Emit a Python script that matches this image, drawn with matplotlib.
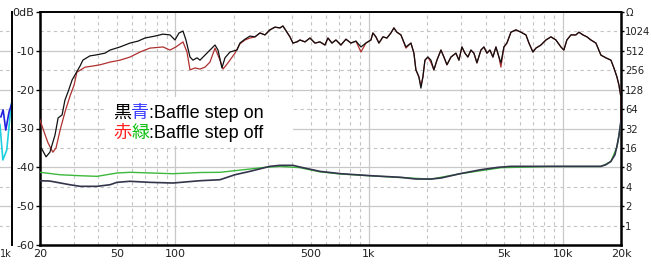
import numpy as np
import matplotlib
matplotlib.use('Agg')
import matplotlib.pyplot as plt
from matplotlib.patches import Rectangle

plt.rcParams['axes.unicode_minus'] = False

# 周波数特性 (Baffle step on) [Hz], [dB]
fr_on_f = [20, 20.2, 21.5, 22.5, 23.9, 24.8, 26.0, 26.9, 27.9, 29.3, 30.3, 32.2, 33.3, 36.2, 38.5,
           43.3, 46.0, 51.8, 58.3, 64.1, 69.7, 78.5, 86.3, 93.8, 99.5, 104.4, 109.5, 113.4, 119.0,
           123.3, 129.3, 134.0, 142.2, 150.9, 160.2, 166.0, 174.0, 180.4, 191.4, 208.0, 215.5,
           228.8, 242.8, 257.6, 273.4, 290.2, 307.9, 326.8, 346.7, 359.3, 376.9, 390.5, 404.7,
           424.4, 439.9, 466.8, 495.4, 525.7, 557.9, 592.0, 613.6, 643.5, 674.8, 716.0, 759.8,
           806.5, 855.8, 908.2, 963.8, 1023, 1047, 1085, 1125, 1180, 1237, 1297, 1344, 1393, 1461,
           1550, 1646, 1705, 1746, 1809, 1853, 1898, 1944, 2014, 2087, 2162, 2242, 2351, 2436,
           2525, 2648, 2810, 2912, 3017, 3127, 3240, 3358, 3480, 3607, 3782, 3920, 4062, 4209,
           4362, 4521, 4685, 4797, 4971, 5152, 5404, 5734, 6087, 6460, 6694, 7019, 7273, 7720,
           8193, 8694, 9224, 9788, 10140, 10510, 11030, 11700, 12130, 12720, 13340, 13980, 14840,
           15750, 16710, 17740, 18380, 19050, 19510, 19980, 20000]
fr_on_db = [-34.3, -34.8, -37.3, -36.1, -31.7, -27.3, -26.5, -22.7, -20.6, -17.5, -16.2, -13.9,
            -12.4, -11.3, -11.1, -10.6, -9.8, -9.0, -8.0, -7.5, -6.7, -6.2, -5.7, -5.9, -7.2,
            -5.4, -4.9, -7.2, -11.6, -12.4, -11.8, -12.4, -11.1, -9.8, -8.5, -9.8, -14.4, -11.8,
            -10.3, -9.8, -8.0, -7.0, -6.2, -6.4, -5.4, -5.9, -4.6, -3.9, -4.1, -3.6, -5.2, -6.4,
            -8.0, -7.7, -7.2, -7.7, -6.7, -8.0, -7.7, -8.5, -6.7, -8.0, -7.2, -8.5, -7.0, -8.0,
            -7.5, -9.0, -8.0, -7.2, -5.4, -6.4, -8.0, -6.4, -6.7, -5.4, -4.1, -5.2, -5.9, -9.0,
            -8.0, -10.6, -14.9, -16.7, -19.6, -16.7, -12.4, -11.6, -12.4, -14.9, -12.4, -9.8,
            -11.6, -13.6, -11.6, -10.6, -12.4, -9.0, -10.6, -11.6, -9.8, -10.6, -13.1, -9.8, -9.0,
            -10.6, -9.8, -11.6, -9.0, -11.6, -13.1, -9.0, -8.0, -5.2, -4.6, -5.2, -5.9, -8.0,
            -10.3, -9.3, -8.5, -7.2, -6.4, -7.2, -9.0, -9.8, -7.2, -5.9, -5.9, -5.2, -5.9, -6.4,
            -7.2, -8.0, -11.1, -11.8, -12.4, -14.4, -16.7, -18.8, -21.9, -30.4]

# 周波数特性 (Baffle step off) 低域部分, 以降は on とほぼ同じ
fr_off_lo_f = [20, 21.0, 22.0, 23.3, 24.2, 25.4, 26.9, 28.6, 30.0, 31.0, 34.2, 37.6, 40.8, 46.0,
               51.8, 58.3, 65.7, 73.9, 86.3, 93.8, 100.7, 109.5, 114.8, 119.0, 126.3, 134.0,
               142.2, 150.9, 160.2, 170.0, 176.2, 186.9, 203.1, 215.5, 228.8, 242.8]
fr_off_lo_db = [-27.8, -30.9, -33.7, -36.1, -35.0, -30.4, -25.8, -21.6, -18.8, -15.5, -14.2,
                -13.9, -13.6, -12.9, -12.4, -11.6, -10.3, -9.3, -9.0, -9.8, -9.0, -7.7, -10.3,
                -14.9, -14.4, -14.7, -14.2, -12.9, -9.3, -12.4, -14.7, -13.1, -10.6, -8.2, -7.2,
                -6.7]
fr_off_diff = {908.2: -10.3, 1853: -19.0, 4797: -14.2, 1550: -9.3, 2087: -13.0}

# インピーダンス [Ohm]
z_on_f = [20, 22.5, 28.5, 32.2, 39.4, 46.0, 49.9, 58.3, 73.9, 97.2, 134, 170, 203, 242.8, 307.9,
          346.7, 404.7, 439.9, 557.9, 716, 1023, 1461, 1746, 2087, 2351, 2947, 3782, 4629, 5404,
          8694, 15750, 16710, 17740, 18600, 19050, 19500, 20000]
z_on = [4.96, 4.90, 4.30, 4.06, 4.06, 4.30, 4.68, 4.86, 4.68, 4.57, 4.96, 5.14, 6.14, 6.93, 8.29,
        8.59, 8.59, 8.09, 6.93, 6.37, 5.93, 5.60, 5.27, 5.27, 5.46, 6.37, 7.35, 8.0, 8.29, 8.29,
        8.29, 8.78, 9.91, 12.5, 16.9, 24.2, 43.0]
z_off_f = [20, 25.4, 32.2, 39.4, 49.9, 58.3, 97.2, 134, 170, 242.8, 290, 346.7, 440, 558, 716,
           1023, 1461, 2087, 2947, 4797, 8694, 15750, 17740, 19050, 20000]
z_off = [6.70, 6.14, 5.93, 5.80, 6.53, 6.70, 6.37, 6.65, 6.70, 7.53, 8.0, 8.29, 7.9, 6.8, 6.3,
         5.9, 5.55, 5.25, 6.35, 7.9, 8.25, 8.25, 9.8, 16.5, 40.0]

# 左端に少しだけ見えている隣のグラフ
side_f_blue = [780, 820, 870, 935, 1000]
side_db_blue = [-27.0, -25.2, -30.4, -25.8, -23.4]
side_f_cyan = [764, 815, 890, 980, 1000]
side_db_cyan = [-29.0, -38.1, -35.5, -24.0, -23.0]

x_ticks = [20, 50, 100, 500, 1000, 5000, 10000, 20000]
x_labels = ['20', '50', '100', '500', '1k', '5k', '10k', '20k']
db_ticks = [0, -10, -20, -30, -40, -50, -60]
db_labels = ['0dB', '-10', '-20', '-30', '-40', '-50', '-60']
z_ticks = [1, 2, 4, 8, 16, 32, 64, 128, 256, 512, 1024, 2048]
z_labels = ['1', '2', '4', '8', '16', '32', '64', '128', '256', '512', '1024', 'Ω']

# off の高域は on と同じデータを使う
k = len([f for f in fr_on_f if f < 250])
fr_off_f = fr_off_lo_f + fr_on_f[k:]
fr_off_db = fr_off_lo_db + [fr_off_diff.get(f, d) for f, d in zip(fr_on_f[k:], fr_on_db[k:])]

W, H = 651, 266
fig = plt.figure(figsize=(W / 100, H / 100), dpi=100)
L, R, T, B = 40, 621, 12, 245
ax = fig.add_axes([L / W, (H - B) / H, (R - L) / W, (B - T) / H])
tc = '#222222'


def hgrid(a):
    for v in range(-55, 0, 5):
        if v % 10 == 0:
            a.axhline(v, color='#c8c8c8', lw=0.9, zorder=0)
        else:
            a.axhline(v, color='#c4c4c4', lw=0.8, ls=(0, (3, 3)), zorder=0)


hgrid(ax)
for dec in [10, 100, 1000, 10000]:
    for m in range(1, 10):
        f = dec * m
        if f <= 20 or f >= 20000:
            continue
        if m == 1:
            ax.axvline(f, color='#c8c8c8', lw=0.9, zorder=0)
        else:
            ax.axvline(f, color='#c4c4c4', lw=0.8, ls=(0, (3, 3)), zorder=0)

ax.plot(fr_off_f, fr_off_db, color='#b03030', lw=0.9, zorder=3)
ax.plot(fr_on_f, fr_on_db, color='#111111', lw=0.9, zorder=4)

ax.set_xscale('log')
ax.set_xlim(20, 20000)
ax.set_ylim(-60, 0)
ax.set_xticks(x_ticks)
ax.set_xticklabels(x_labels)
ax.minorticks_off()
ax.set_yticks(db_ticks)
ax.set_yticklabels(db_labels)
ax.tick_params(axis='x', length=0, pad=3, labelsize=8, labelcolor=tc)
ax.tick_params(axis='y', length=3, width=1, pad=1, labelsize=8, labelcolor=tc)
for s in ax.spines.values():
    s.set_linewidth(1.8)
ax.spines['top'].set_linewidth(1.4)

ax2 = ax.twinx()
ax2.set_yscale('log', base=2)
ax2.set_ylim(0.5, 2048)
ax2.plot(z_off_f, z_off, color='#3cb83c', lw=1.0, zorder=2)
ax2.plot(z_on_f, z_on, color='#34344c', lw=1.2, zorder=3)
ax2.set_yticks(z_ticks)
ax2.set_yticklabels(z_labels)
ax2.minorticks_off()
ax2.tick_params(axis='y', length=2.5, width=1, pad=0.5, labelsize=7.2, labelcolor=tc)
for s in ax2.spines.values():
    s.set_visible(False)

# 凡例の白い箱
ax2.add_patch(Rectangle((0.112, 0.425), 0.323, 0.21, transform=ax.transAxes,
                        facecolor='white', edgecolor='none', zorder=5))
lines = [[('黒', 'black'), ('青', '#3a3aff'), (':Baffle step on', 'black')],
         [('赤', '#ff2020'), ('緑', '#10c010'), (':Baffle step off', 'black')]]
fam = ['Noto Sans CJK JP', 'DejaVu Sans']
for i, parts in enumerate(lines):
    y = 0.567 - i * 0.086
    prev = None
    for txt, col in parts:
        family = ['Liberation Sans', 'Noto Sans CJK JP'] if txt.startswith(':') else fam
        if prev is None:
            prev = ax2.text(0.126, y, txt, transform=ax.transAxes, color=col, fontsize=13,
                            family=family, va='center', ha='left', zorder=6)
        else:
            prev = ax2.annotate(txt, xy=(1, 0), xycoords=prev, va='bottom', ha='left',
                                color=col, fontsize=13, family=family, zorder=6)

# 左端の隣のグラフ
axs = fig.add_axes([-60 / W, (H - B) / H, 72 / W, (B - T) / H])
hgrid(axs)
axs.plot(side_f_cyan, side_db_cyan, color='#20d0e0', lw=1.2)
axs.plot(side_f_blue, side_db_blue, color='#2020e0', lw=1.2)
axs.set_xscale('log')
axs.set_xlim(200, 1000)
axs.set_ylim(-60, 0)
axs.set_xticks([1000])
axs.set_xticklabels(['1k'])
axs.minorticks_off()
axs.set_yticks([])
axs.tick_params(axis='x', length=0, pad=3, labelsize=7, labelcolor=tc)
for s in axs.spines.values():
    s.set_visible(False)
axs.spines['right'].set_visible(True)
axs.spines['right'].set_linewidth(1.4)
axs.get_xticklabels()[0].set_horizontalalignment('right')

fig.savefig('out.png', dpi=100)
